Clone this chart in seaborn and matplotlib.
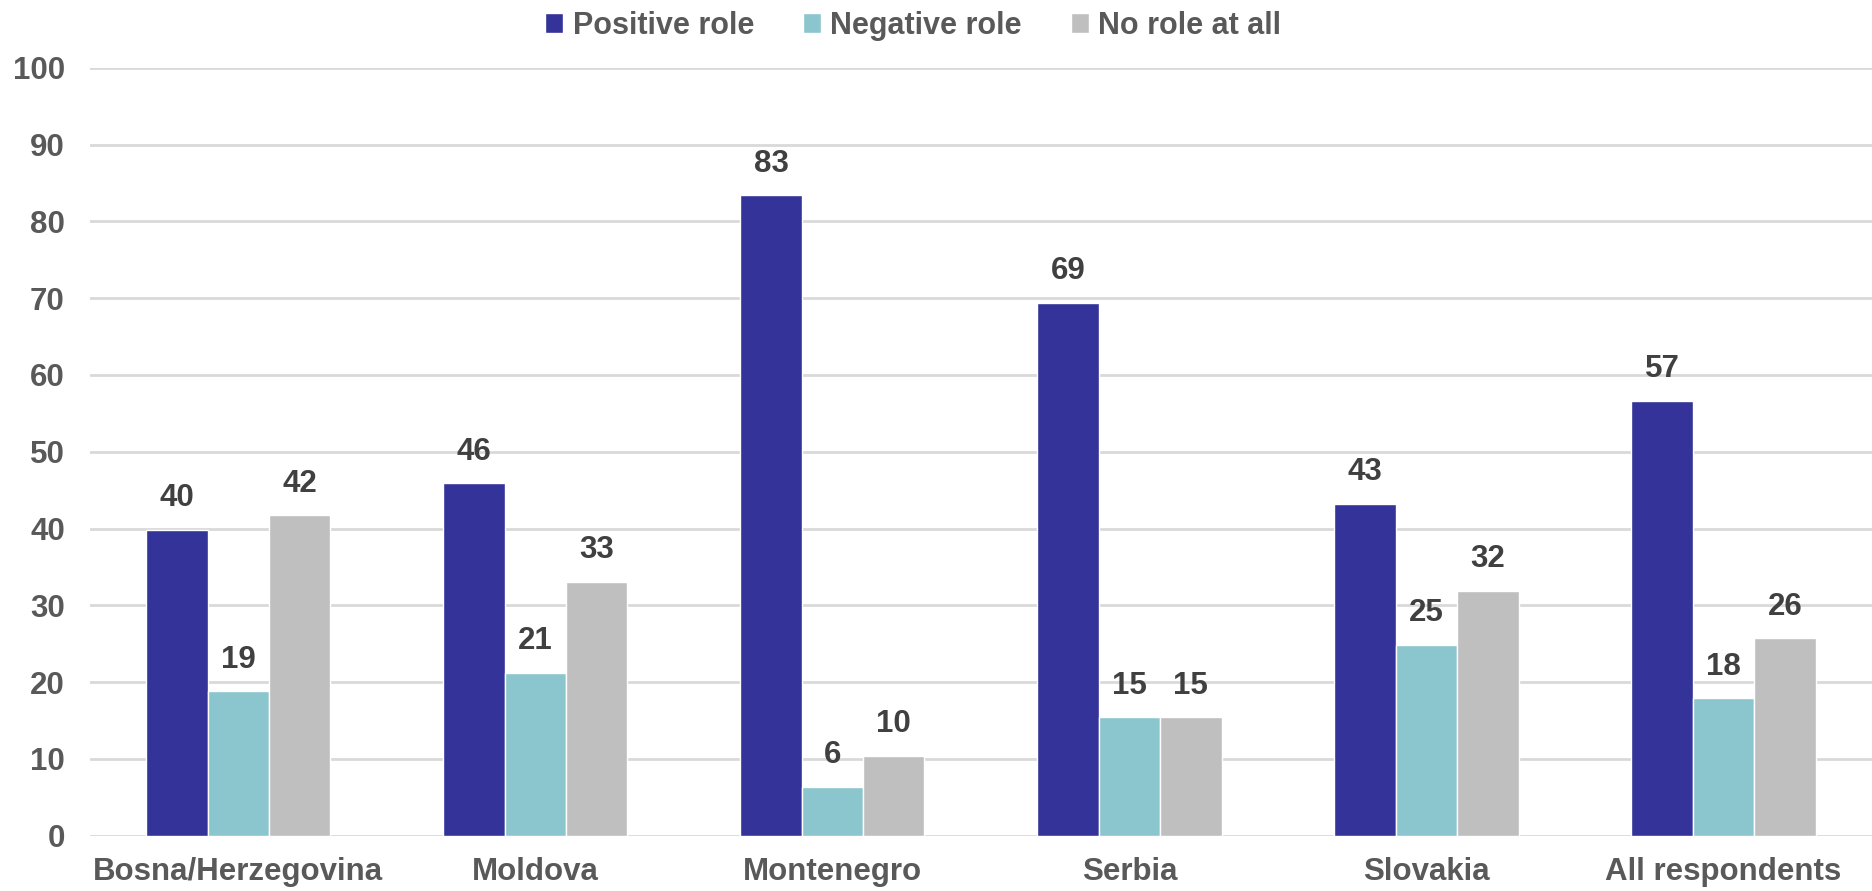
import seaborn as sns
import matplotlib.pyplot as plt
import pandas as pd

countries = ["Bosna/Herzegovina", "Moldova", "Montenegro", "Serbia", "Slovakia", "All respondents"]
roles = ["Positive role", "Negative role", "No role at all"]
positive = [39.8, 45.9, 83.4, 69.4, 43.2, 56.6]
negative = [18.8, 21.2, 6.4, 15.4, 24.9, 17.9]
no_role = [41.7, 33.1, 10.4, 15.4, 31.9, 25.7]
yticks = list(range(0, 101, 10))

colors = {"Positive role": "#333399", "Negative role": "#8BC5CD", "No role at all": "#BFBFBF"}
text_grey = "#595959"
label_grey = "#404040"

rows = []
for role, vals in zip(roles, [positive, negative, no_role]):
    for c, v in zip(countries, vals):
        rows.append({"Country": c, "Role": role, "Value": v})
df = pd.DataFrame(rows)

sns.set_style("white")
plt.rcParams['font.family'] = ['Liberation Sans', 'DejaVu Sans']
plt.rcParams['font.weight'] = 'bold'

fig = plt.figure(figsize=(18.72, 8.91), dpi=100)
ax = fig.add_axes([0.048, 0.062, 0.952, 0.862])

sns.barplot(data=df, x="Country", y="Value", hue="Role", order=countries, hue_order=roles,
            palette=colors, width=0.62, saturation=1, ax=ax, legend=True)

for cont in ax.containers:
    ax.bar_label(cont, labels=[f"{v:.0f}" for v in cont.datavalues], padding=12,
                 fontsize=22.5, fontweight='bold', color=label_grey)

ax.set_ylim(0, 100)
ax.set_xlim(-0.5, 5.5)
ax.set_yticks(yticks)
ax.yaxis.grid(True, color="#D9D9D9", linewidth=2)
ax.set_axisbelow(True)
for s in ax.spines.values():
    s.set_visible(False)
ax.tick_params(axis='both', length=0, labelsize=22.5, labelcolor=text_grey)
ax.tick_params(axis='y', pad=18)
ax.tick_params(axis='x', pad=15)
for lbl in ax.get_xticklabels() + ax.get_yticklabels():
    lbl.set_fontweight('bold')
ax.set_xlabel("")
ax.set_ylabel("")

# legend on top, small square markers
leg = ax.legend(loc='upper center', bbox_to_anchor=(0.462, 1.11), ncol=3, frameon=False,
                fontsize=22, handlelength=0.6, handleheight=0.6, handletextpad=0.3, columnspacing=1.6)
for t in leg.get_texts():
    t.set_color(text_grey)
    t.set_fontweight('bold')

fig.savefig("out.png", dpi=100)
